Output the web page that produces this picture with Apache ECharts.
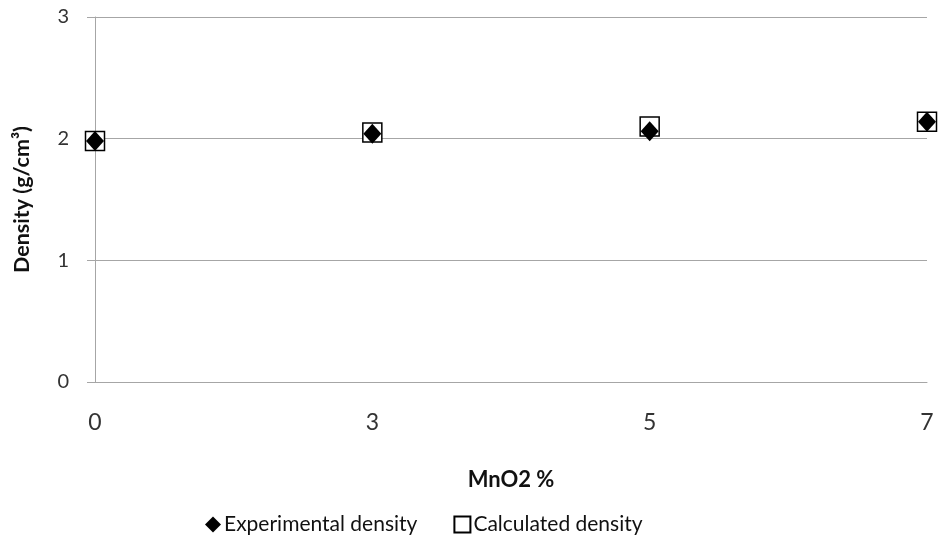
<!DOCTYPE html>
<html>
<head>
<meta charset="utf-8">
<style>
  html, body { margin: 0; padding: 0; background: #fff; }
  #chart { width: 942px; height: 548px; }
</style>
<script src="https://cdn.jsdelivr.net/npm/echarts@6/dist/echarts.min.js"></script>
</head>
<body>
<div id="chart"></div>
<script>
// MnO2 content (%) along the x axis
const mno2Levels = ['0', '3', '5', '7'];
// Measured density, g/cm³
const experimentalDensity = [1.98, 2.04, 2.06, 2.14];
// Calculated density, g/cm³
const calculatedDensity = [1.98, 2.05, 2.10, 2.14];
// Density axis ticks
const densityTicks = [0, 1, 2, 3];

const chart = echarts.init(document.getElementById('chart'));
const font = 'Lato, "Open Sans", sans-serif';
const gridGray = '#a6a6a6';

chart.setOption({
  animation: false,
  textStyle: { fontFamily: font },
  grid: { left: 95, right: 15, top: 17, bottom: 166, containLabel: false },
  legend: {
    bottom: 8,
    left: 200,
    itemWidth: 16,
    itemHeight: 16,
    itemGap: 36,
    data: [
      { name: 'Experimental density', icon: 'diamond' },
      { name: 'Calculated density', icon: 'rect' }
    ],
    textStyle: { fontFamily: font, fontSize: 21, color: '#111', padding: [0, 0, 0, -2] }
  },
  xAxis: {
    type: 'category',
    data: mno2Levels,
    boundaryGap: false,
    name: 'MnO2 %',
    nameLocation: 'middle',
    nameGap: 87,
    nameTextStyle: { fontFamily: font, fontSize: 22, fontWeight: 'bold', color: '#111' },
    axisLine: { lineStyle: { color: gridGray, width: 1 } },
    axisTick: { show: false },
    axisLabel: { margin: 29, fontSize: 23, color: '#333', fontFamily: font },
    splitLine: { show: false }
  },
  yAxis: {
    type: 'value',
    min: densityTicks[0],
    max: densityTicks[densityTicks.length - 1],
    interval: 1,
    name: 'Density (g/cm³)',
    nameLocation: 'middle',
    nameGap: 62,
    nameTextStyle: { fontFamily: font, fontSize: 21.5, fontWeight: 'bold', color: '#111' },
    axisLine: { show: true, lineStyle: { color: gridGray, width: 1 } },
    axisTick: { show: true, length: 8, lineStyle: { color: gridGray } },
    axisLabel: { margin: 26, fontSize: 20, color: '#333', fontFamily: font },
    splitLine: { show: true, lineStyle: { color: gridGray, width: 1 } }
  },
  series: [
    {
      name: 'Calculated density',
      type: 'scatter',
      data: calculatedDensity,
      symbol: 'rect',
      symbolSize: 19,
      z: 2,
      itemStyle: { color: '#fff', borderColor: '#000', borderWidth: 1.5, opacity: 1 }
    },
    {
      name: 'Experimental density',
      type: 'scatter',
      data: experimentalDensity,
      symbol: 'diamond',
      symbolSize: [18, 20],
      z: 3,
      itemStyle: { color: '#000', opacity: 1 }
    }
  ]
});
</script>
</body>
</html>
